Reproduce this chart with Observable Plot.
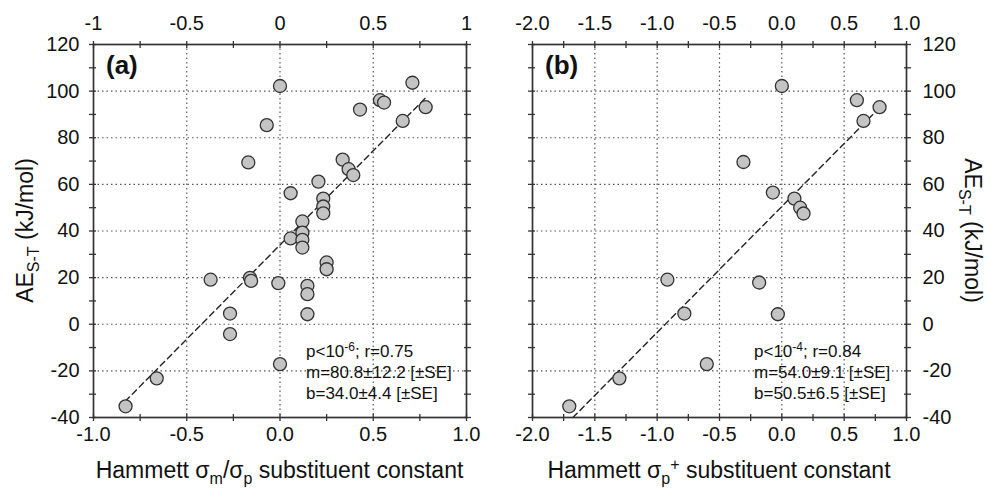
<!DOCTYPE html>
<html><head><meta charset="utf-8">
<script src="https://cdn.jsdelivr.net/npm/d3@7"></script>
<script src="https://cdn.jsdelivr.net/npm/@observablehq/plot@0.6"></script>
<style>
body{margin:0;background:#fff;}
#wrap{position:relative;width:990px;height:488px;font-family:"Liberation Sans",Arial,sans-serif;}
#wrap svg{position:absolute;top:0;}
</style></head><body><div id="wrap"></div>
<script>
// Panel (a): Hammett sigma_m / sigma_p vs AE_S-T
const xA = [0, 0.71, 0.536, 0.558, 0.781, 0.429, 0.658, -0.071, -0.17, 0.336, 0.368, 0.393, 0.206, 0.057, 0.232, 0.232, 0.232, 0.12, 0.12, 0.057, 0.12, 0.12, 0.25, 0.25, -0.372, -0.161, -0.155, -0.009, 0.147, 0.147, 0.147, -0.268, -0.268, 0, -0.661, -0.828];
const yA = [102.2, 103.6, 96.1, 95.1, 93.1, 92.1, 87.2, 85.4, 69.4, 70.6, 66.5, 64, 61.2, 56.2, 53.9, 50.5, 47.6, 44.1, 39.3, 36.8, 36.2, 32.9, 26.5, 23.6, 19.1, 19.9, 18.6, 17.6, 16.5, 12.9, 4.3, 4.6, -4.2, -17.1, -23.2, -35.2];
// Panel (b): Hammett sigma_p+ vs AE_S-T
const xB = [0, 0.602, 0.784, 0.655, -0.308, -0.072, 0.101, 0.147, 0.174, -0.918, -0.182, -0.782, -0.032, -0.602, -1.303, -1.705];
const yB = [102.2, 96.1, 93.1, 87.2, 69.6, 56.5, 53.9, 50, 47.5, 19.1, 17.9, 4.6, 4.3, -17.1, -23.2, -35.2];
// Fits (slope, intercept) and drawn extent
const fitA = {m: 80.8, b: 34.0, x0: -0.83, x1: 0.78};
const fitB = {m: 54.0, b: 50.5, x0: -1.676, x1: 0.75};
// Tick values
const xMajorA = [-1, -0.5, 0, 0.5, 1];
const xMajorB = [-2, -1.5, -1, -0.5, 0, 0.5, 1];
const yMajor = [-40, -20, 0, 20, 40, 60, 80, 100, 120];
const yMinor = [-40, -30, -20, -10, 0, 10, 20, 30, 40, 50, 60, 70, 80, 90, 100, 110, 120];
const statsA = ["p<10", "-6", "; r=0.75", "m=80.8±12.2 [±SE]", "b=34.0±4.4 [±SE]"];
const statsB = ["p<10", "-4", "; r=0.84", "m=54.0±9.1 [±SE]", "b=50.5±6.5 [±SE]"];

const FONT = "Liberation Sans, Arial, Helvetica, sans-serif";
const H = 488, MT = 44, MB = 71;

function panel(cfg) {
  const pts = cfg.xs.map((x, i) => ({x, y: cfg.ys[i]}));
  const line = [cfg.fit.x0, cfg.fit.x1].map(x => ({x, y: cfg.fit.m * x + cfg.fit.b}));
  const lo = cfg.xMajor[0], hi = cfg.xMajor[cfg.xMajor.length - 1];
  const xMinor = d3.range(lo, hi + 0.01, 0.25);
  const tickStyle = {fill: "none", stroke: "#333", strokeWidth: 1.3, tickSize: 7, label: null};
  const gridStyle = {stroke: "#444", strokeOpacity: 0.9, strokeWidth: 1.2, strokeDasharray: "1.5,3"};
  const plot = Plot.plot({
    width: cfg.width, height: H,
    marginLeft: cfg.ml, marginRight: cfg.mr, marginTop: MT, marginBottom: MB,
    x: {domain: [lo, hi], label: null},
    y: {domain: [-40, 120], label: null},
    style: {fontFamily: FONT, fontSize: "20px", color: "#111", background: "none", overflow: "visible"},
    marks: [
      Plot.gridX(cfg.xMajor.slice(1, -1), gridStyle),
      Plot.gridY(yMajor.slice(1, -1), gridStyle),
      Plot.line(line, {x: "x", y: "y", stroke: "#222", strokeWidth: 1.4, strokeDasharray: "6,4"}),
      Plot.dot(pts, {x: "x", y: "y", r: 6.5, fill: "#c4c4c4", stroke: "#333", strokeWidth: 1.3}),
      Plot.frame({stroke: "#333", strokeWidth: 1.7}),
      Plot.axisX(xMinor, {anchor: "bottom", dy: -3, ...tickStyle}),
      Plot.axisX(xMinor, {anchor: "top", dy: 3, ...tickStyle}),
      Plot.axisY(yMinor, {anchor: "left", dx: 3, ...tickStyle}),
      Plot.axisY(yMinor, {anchor: "right", dx: -3, ...tickStyle}),
      Plot.axisX(cfg.xMajor, {anchor: "bottom", tickSize: 0, tickPadding: 9, tickFormat: d => d.toFixed(1), label: null}),
      Plot.axisX(cfg.xMajor, {anchor: "top", tickSize: 0, tickPadding: 15, tickFormat: cfg.topFmt, label: null}),
      Plot.axisY(yMajor, {anchor: cfg.yAnchor, tickSize: 0, tickPadding: cfg.yPad, tickFormat: d => String(d), label: null})
    ]
  });
  plot.style.left = cfg.left + "px";
  const svg = d3.select(plot);
  // panel letter
  svg.append("text").attr("x", cfg.letterX).attr("y", 74).attr("text-anchor", "start")
    .attr("font-family", FONT).attr("font-size", 26).attr("font-weight", "bold").attr("fill", "#111")
    .text(cfg.letter);
  // stats annotation
  const ax = cfg.annX, ay = 357;
  const mk = (y) => svg.append("text").attr("x", ax).attr("y", y).attr("text-anchor", "start")
    .attr("font-family", FONT).attr("font-size", 17).attr("fill", "#111");
  const t1 = mk(ay);
  t1.append("tspan").text(cfg.stats[0]);
  t1.append("tspan").attr("dy", -6).attr("font-size", 12).text(cfg.stats[1]);
  t1.append("tspan").attr("dy", 6).text(cfg.stats[2]);
  mk(ay + 21).text(cfg.stats[3]);
  mk(ay + 42).text(cfg.stats[4]);
  // x axis title
  const cx = (cfg.ml + cfg.width - cfg.mr) / 2;
  const xt = svg.append("text").attr("x", cx).attr("y", 478).attr("text-anchor", "middle")
    .attr("font-family", FONT).attr("font-size", 23).attr("fill", "#111");
  cfg.xTitle(xt);
  // y axis title
  const cy = (MT + H - MB) / 2;
  const yt = svg.append("text").attr("text-anchor", "middle")
    .attr("font-family", FONT).attr("font-size", 23).attr("fill", "#111")
    .attr("transform", `translate(${cfg.yTitleX},${cy}) rotate(${cfg.yRot})`);
  yt.append("tspan").text("AE");
  yt.append("tspan").attr("dy", 6).attr("font-size", 16).text("S-T");
  yt.append("tspan").attr("dy", -6).text(" (kJ/mol)");
  document.getElementById("wrap").appendChild(plot);
}

panel({
  left: 0, width: 495, ml: 93, mr: 29, xMajor: xMajorA, topFmt: d => String(d),
  xs: xA, ys: yA, fit: fitA, yAnchor: "left", yPad: 14, letter: "(a)", letterX: 106,
  stats: statsA, annX: 306, yTitleX: 33, yRot: -90,
  xTitle: t => {
    t.append("tspan").text("Hammett σ");
    t.append("tspan").attr("dy", 6).attr("font-size", 16).text("m");
    t.append("tspan").attr("dy", -6).text("/σ");
    t.append("tspan").attr("dy", 6).attr("font-size", 16).text("p");
    t.append("tspan").attr("dy", -6).text(" substituent constant");
  }
});
panel({
  left: 495, width: 495, ml: 37, mr: 84, xMajor: xMajorB, topFmt: d => d.toFixed(1),
  xs: xB, ys: yB, fit: fitB, yAnchor: "right", yPad: 16, letter: "(b)", letterX: 50,
  stats: statsB, annX: 259, yTitleX: 470, yRot: 90,
  xTitle: t => {
    t.append("tspan").text("Hammett σ");
    t.append("tspan").attr("dy", 6).attr("font-size", 16).text("p");
    t.append("tspan").attr("dy", -14).attr("font-size", 16).text("+");
    t.append("tspan").attr("dy", 8).text(" substituent constant");
  }
});
</script></body></html>
